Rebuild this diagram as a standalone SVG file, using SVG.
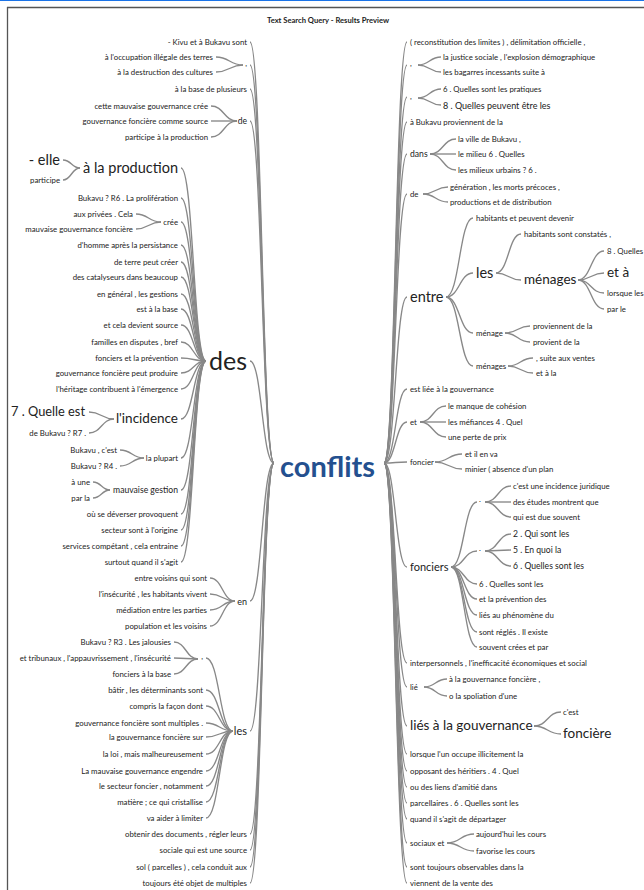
<svg xmlns="http://www.w3.org/2000/svg" width="644" height="890" viewBox="0 0 644 890">
<style>
text{font-family:Lato,'Liberation Sans',sans-serif;font-size:7.8px;fill:#222;dominant-baseline:central}
.e{text-anchor:end}
.s9{font-size:9px}
.s85{font-size:8.6px}
.s11{font-size:11px}
.s13{font-size:13.5px}
.s125{font-size:12.8px}
.s14{font-size:14.5px}
.big{font-size:25px}
.title{font-weight:700;font-size:7.6px;text-anchor:middle}
.root{font-weight:700;font-size:29px;fill:#24508f}
#connectors path{fill:none;stroke:#888;stroke-width:1.35}
</style>
<rect x="0" y="0" width="644" height="890" fill="#fff"/>
<line x1="0" y1="0.5" x2="644" y2="0.5" stroke="#1a73e8" stroke-width="1.2"/>
<line x1="7" y1="7.5" x2="644" y2="7.5" stroke="#555" stroke-width="1.3"/>
<line x1="7.5" y1="7" x2="7.5" y2="890" stroke="#555" stroke-width="1.3"/>
<text class="title" x="328" y="20">Text Search Query - Results Preview</text>
<g id="connectors">
<path d="M250,42 C262,42 262,463 274,463"/>
<path d="M250,65 C262,65 262,463 274,463"/>
<path d="M250,89 C262,89 262,463 274,463"/>
<path d="M250,121 C262,121 262,463 274,463"/>
<path d="M250,361 C262,361 262,463 274,463"/>
<path d="M250,601 C262,601 262,463 274,463"/>
<path d="M250,731 C262,731 262,463 274,463"/>
<path d="M250,834 C262,834 262,463 274,463"/>
<path d="M250,850 C262,850 262,463 274,463"/>
<path d="M250,867 C262,867 262,463 274,463"/>
<path d="M250,883 C262,883 262,463 274,463"/>
<path d="M384,463 C395.5,463 395.5,42 407,42"/>
<path d="M384,463 C395.5,463 395.5,65 407,65"/>
<path d="M384,463 C395.5,463 395.5,97 407,97"/>
<path d="M384,463 C395.5,463 395.5,122 407,122"/>
<path d="M384,463 C395.5,463 395.5,154 407,154"/>
<path d="M384,463 C395.5,463 395.5,194 407,194"/>
<path d="M384,463 C395.5,463 395.5,297 407,297"/>
<path d="M384,463 C395.5,463 395.5,389 407,389"/>
<path d="M384,463 C395.5,463 395.5,422 407,422"/>
<path d="M384,463 C395.5,463 395.5,462 407,462"/>
<path d="M384,463 C395.5,463 395.5,567 407,567"/>
<path d="M384,463 C395.5,463 395.5,663 407,663"/>
<path d="M384,463 C395.5,463 395.5,687 407,687"/>
<path d="M384,463 C395.5,463 395.5,726 407,726"/>
<path d="M384,463 C395.5,463 395.5,754 407,754"/>
<path d="M384,463 C395.5,463 395.5,771 407,771"/>
<path d="M384,463 C395.5,463 395.5,787 407,787"/>
<path d="M384,463 C395.5,463 395.5,803 407,803"/>
<path d="M384,463 C395.5,463 395.5,819 407,819"/>
<path d="M384,463 C395.5,463 395.5,843 407,843"/>
<path d="M384,463 C395.5,463 395.5,867 407,867"/>
<path d="M384,463 C395.5,463 395.5,883 407,883"/>
<path d="M216,57 C229.5,57 229.5,65 243,65"/>
<path d="M216,72 C229.5,72 229.5,65 243,65"/>
<path d="M211,106 C224,106 224,121 237,121"/>
<path d="M211,121 L237,121"/>
<path d="M211,137 C224,137 224,121 237,121"/>
<path d="M181,168 C193.5,168 193.5,361 206,361"/>
<path d="M181,198 C193.5,198 193.5,361 206,361"/>
<path d="M181,222 C193.5,222 193.5,361 206,361"/>
<path d="M181,245 C193.5,245 193.5,361 206,361"/>
<path d="M181,262 C193.5,262 193.5,361 206,361"/>
<path d="M181,277 C193.5,277 193.5,361 206,361"/>
<path d="M181,294 C193.5,294 193.5,361 206,361"/>
<path d="M181,309 C193.5,309 193.5,361 206,361"/>
<path d="M181,325 C193.5,325 193.5,361 206,361"/>
<path d="M181,342 C193.5,342 193.5,361 206,361"/>
<path d="M181,358 C193.5,358 193.5,361 206,361"/>
<path d="M181,373 C193.5,373 193.5,361 206,361"/>
<path d="M181,389 C193.5,389 193.5,361 206,361"/>
<path d="M181,419 C193.5,419 193.5,361 206,361"/>
<path d="M181,458 C193.5,458 193.5,361 206,361"/>
<path d="M181,490 C193.5,490 193.5,361 206,361"/>
<path d="M181,514 C193.5,514 193.5,361 206,361"/>
<path d="M181,530 C193.5,530 193.5,361 206,361"/>
<path d="M181,546 C193.5,546 193.5,361 206,361"/>
<path d="M181,562 C193.5,562 193.5,361 206,361"/>
<path d="M63,160 C71.5,160 71.5,168 80,168"/>
<path d="M63,180 C71.5,180 71.5,168 80,168"/>
<path d="M136,214 C148.5,214 148.5,222 161,222"/>
<path d="M136,229 C148.5,229 148.5,222 161,222"/>
<path d="M89,412 C101.5,412 101.5,419 114,419"/>
<path d="M89,433 C101.5,433 101.5,419 114,419"/>
<path d="M120,450 C132,450 132,458 144,458"/>
<path d="M120,466 C132,466 132,458 144,458"/>
<path d="M93,482 C101.5,482 101.5,490 110,490"/>
<path d="M93,498 C101.5,498 101.5,490 110,490"/>
<path d="M210,578 C222.5,578 222.5,601 235,601"/>
<path d="M210,594 C222.5,594 222.5,601 235,601"/>
<path d="M210,610 C222.5,610 222.5,601 235,601"/>
<path d="M210,626 C222.5,626 222.5,601 235,601"/>
<path d="M206,658 C219.5,658 219.5,731 233,731"/>
<path d="M206,690 C219.5,690 219.5,731 233,731"/>
<path d="M206,706 C219.5,706 219.5,731 233,731"/>
<path d="M206,723 C219.5,723 219.5,731 233,731"/>
<path d="M206,737 C219.5,737 219.5,731 233,731"/>
<path d="M206,754 C219.5,754 219.5,731 233,731"/>
<path d="M206,771 C219.5,771 219.5,731 233,731"/>
<path d="M206,786 C219.5,786 219.5,731 233,731"/>
<path d="M206,802 C219.5,802 219.5,731 233,731"/>
<path d="M206,818 C219.5,818 219.5,731 233,731"/>
<path d="M174,642 C186,642 186,659 198,659"/>
<path d="M174,658 L198,659"/>
<path d="M174,674 C186,674 186,659 198,659"/>
<path d="M418,65 C429.5,65 429.5,57 441,57"/>
<path d="M418,65 C429.5,65 429.5,72 441,72"/>
<path d="M418,98 C429.5,98 429.5,89 441,89"/>
<path d="M418,98 C429.5,98 429.5,105 441,105"/>
<path d="M430,154 C443,154 443,139 456,139"/>
<path d="M430,154 L456,154"/>
<path d="M430,154 C443,154 443,170 456,170"/>
<path d="M423,194 C435.5,194 435.5,187 448,187"/>
<path d="M423,194 C435.5,194 435.5,202 448,202"/>
<path d="M446,297 C459.5,297 459.5,218 473,218"/>
<path d="M446,297 C459.5,297 459.5,273 473,273"/>
<path d="M446,297 C459.5,297 459.5,333 473,333"/>
<path d="M446,297 C459.5,297 459.5,366 473,366"/>
<path d="M496,273 C508.5,273 508.5,234 521,234"/>
<path d="M496,273 C508.5,273 508.5,280 521,280"/>
<path d="M578,280 C591,280 591,251 604,251"/>
<path d="M578,280 C591,280 591,273 604,273"/>
<path d="M578,280 C591,280 591,293 604,293"/>
<path d="M578,280 C591,280 591,309 604,309"/>
<path d="M505,333 C517.5,333 517.5,326 530,326"/>
<path d="M505,333 C517.5,333 517.5,342 530,342"/>
<path d="M508,366 C520.5,366 520.5,358 533,358"/>
<path d="M508,366 C520.5,366 520.5,373 533,373"/>
<path d="M420,422 C433,422 433,406 446,406"/>
<path d="M420,422 L446,422"/>
<path d="M420,422 C433,422 433,437 446,437"/>
<path d="M435,462 C448.5,462 448.5,454 462,454"/>
<path d="M435,462 C448.5,462 448.5,469 462,469"/>
<path d="M451,567 C464,567 464,502 477,502"/>
<path d="M451,567 C464,567 464,551 477,551"/>
<path d="M451,567 C464,567 464,584 477,584"/>
<path d="M451,567 C464,567 464,599 477,599"/>
<path d="M451,567 C464,567 464,615 477,615"/>
<path d="M451,567 C464,567 464,632 477,632"/>
<path d="M451,567 C464,567 464,647 477,647"/>
<path d="M485,502 C498,502 498,486 511,486"/>
<path d="M485,502 L511,502"/>
<path d="M485,502 C498,502 498,517 511,517"/>
<path d="M485,551 C498,551 498,534 511,534"/>
<path d="M485,551 L511,550"/>
<path d="M485,551 C498,551 498,566 511,566"/>
<path d="M424,687 C435.5,687 435.5,679 447,679"/>
<path d="M424,687 C435.5,687 435.5,696 447,696"/>
<path d="M534,726 C547.5,726 547.5,712 561,712"/>
<path d="M534,726 C547.5,726 547.5,734 561,734"/>
<path d="M447,843 C460.5,843 460.5,834 474,834"/>
<path d="M447,843 C460.5,843 460.5,851 474,851"/>
</g>
<g id="root"><text class="root" x="280" y="465">conflits</text></g>
<g id="l-kivu"><text class="e" x="247" y="42">- Kivu et à Bukavu sont</text></g>
<g id="l-comma1"><text class="e" x="247" y="63">,</text></g>
<g id="l-occupation"><text class="e" x="213" y="57">à l'occupation illégale des terres</text></g>
<g id="l-destruction"><text class="e" x="213" y="72">à la destruction des cultures</text></g>
<g id="l-base"><text class="e" x="247" y="89">à la base de plusieurs</text></g>
<g id="l-de"><text class="e s85" x="247" y="121">de</text></g>
<g id="l-cette"><text class="e" x="208" y="106">cette mauvaise gouvernance crée</text></g>
<g id="l-gouvsource"><text class="e" x="208" y="121">gouvernance foncière comme source</text></g>
<g id="l-participeprod"><text class="e" x="208" y="137">participe à la production</text></g>
<g id="l-des"><text class="e big" x="247" y="360">des</text></g>
<g id="l-en"><text class="e s9" x="247" y="601">en</text></g>
<g id="l-les"><text class="e s11" x="247" y="730">les</text></g>
<g id="l-obtenir"><text class="e" x="247" y="834">obtenir des documents , régler leurs</text></g>
<g id="l-sociale"><text class="e" x="247" y="850">sociale qui est une source</text></g>
<g id="l-sol"><text class="e" x="247" y="867">sol ( parcelles ) , cela conduit aux</text></g>
<g id="l-toujours"><text class="e" x="247" y="883">toujours été objet de multiples</text></g>
<g id="l-production"><text class="e s14" x="178" y="167">à la production</text></g>
<g id="l-elle"><text class="e s14" x="60" y="159">- elle</text></g>
<g id="l-participe"><text class="e" x="60" y="180">participe</text></g>
<g id="l-r6"><text class="e" x="178" y="198">Bukavu ? R6 . La prolifération</text></g>
<g id="l-cree"><text class="e" x="178" y="222">crée</text></g>
<g id="l-prives"><text class="e" x="133" y="214">aux privées . Cela</text></g>
<g id="l-mauvgouv"><text class="e" x="133" y="229">mauvaise gouvernance foncière</text></g>
<g id="l-homme"><text class="e" x="178" y="245">d'homme après la persistance</text></g>
<g id="l-terre"><text class="e" x="178" y="262">de terre peut créer</text></g>
<g id="l-catal"><text class="e" x="178" y="277">des catalyseurs dans beaucoup</text></g>
<g id="l-general"><text class="e" x="178" y="294">en général , les gestions</text></g>
<g id="l-estbase"><text class="e" x="178" y="309">est à la base</text></g>
<g id="l-devient"><text class="e" x="178" y="325">et cela devient source</text></g>
<g id="l-familles"><text class="e" x="178" y="342">familles en disputes , bref</text></g>
<g id="l-prevention"><text class="e" x="178" y="358">fonciers et la prévention</text></g>
<g id="l-produire"><text class="e" x="178" y="373">gouvernance foncière peut produire</text></g>
<g id="l-heritage"><text class="e" x="178" y="389">l'héritage contribuent à l'émergence</text></g>
<g id="l-incidence"><text class="e s13" x="178" y="418">l'incidence</text></g>
<g id="l-quelle"><text class="e s125" x="85" y="411">7 . Quelle est</text></g>
<g id="l-r7"><text class="e" x="86" y="433">de Bukavu ? R7 .</text></g>
<g id="l-plupart"><text class="e" x="178" y="458">la plupart</text></g>
<g id="l-cest"><text class="e" x="117" y="450">Bukavu , c'est</text></g>
<g id="l-r4"><text class="e" x="117" y="466">Bukavu ? R4 .</text></g>
<g id="l-gestion"><text class="e s85" x="178" y="490">mauvaise gestion</text></g>
<g id="l-une"><text class="e" x="90" y="482">à une</text></g>
<g id="l-parla"><text class="e" x="90" y="498">par la</text></g>
<g id="l-deverser"><text class="e" x="178" y="514">où se déverser provoquent</text></g>
<g id="l-secteur"><text class="e" x="178" y="530">secteur sont à l'origine</text></g>
<g id="l-services"><text class="e" x="178" y="546">services compétant , cela entraine</text></g>
<g id="l-surtout"><text class="e" x="178" y="562">surtout quand il s'agit</text></g>
<g id="l-voisins"><text class="e" x="207" y="578">entre voisins qui sont</text></g>
<g id="l-insecurite"><text class="e" x="207" y="594">l'insécurité , les habitants vivent</text></g>
<g id="l-mediation"><text class="e" x="207" y="610">médiation entre les parties</text></g>
<g id="l-population"><text class="e" x="207" y="626">population et les voisins</text></g>
<g id="l-comma2"><text class="e" x="203" y="656">,</text></g>
<g id="l-r3"><text class="e" x="171" y="642">Bukavu ? R3 . Les jalousies</text></g>
<g id="l-tribunaux"><text class="e" x="171" y="658">et tribunaux , l'appauvrissement , l'insécurité</text></g>
<g id="l-foncbase"><text class="e" x="171" y="674">fonciers à la base</text></g>
<g id="l-batir"><text class="e" x="203" y="690">bâtir , les déterminants sont</text></g>
<g id="l-compris"><text class="e" x="203" y="706">compris la façon dont</text></g>
<g id="l-multiples"><text class="e" x="203" y="723">gouvernance foncière sont multiples .</text></g>
<g id="l-sur"><text class="e" x="203" y="737">la gouvernance foncière sur</text></g>
<g id="l-loi"><text class="e" x="203" y="754">la loi , mais malheureusement</text></g>
<g id="l-engendre"><text class="e" x="203" y="771">La mauvaise gouvernance engendre</text></g>
<g id="l-notamment"><text class="e" x="203" y="786">le secteur foncier , notamment</text></g>
<g id="l-matiere"><text class="e" x="203" y="802">matière ; ce qui cristallise</text></g>
<g id="l-limiter"><text class="e" x="203" y="818">va aider à limiter</text></g>
<g id="r-reconst"><text x="410" y="42">( reconstitution des limites ) , délimitation officielle ,</text></g>
<g id="r-comma1"><text x="410" y="63">,</text></g>
<g id="r-justice"><text x="443" y="57">la justice sociale , l'explosion démographique</text></g>
<g id="r-bagarres"><text x="443" y="72">les bagarres incessants suite à</text></g>
<g id="r-comma2"><text x="410" y="96">,</text></g>
<g id="r-pratiques"><text x="443" y="89">6 . Quelles sont les pratiques</text></g>
<g id="r-peuvent"><text class="s9" x="443" y="105">8 . Quelles peuvent être les</text></g>
<g id="r-proviennent"><text x="410" y="122">à Bukavu proviennent de la</text></g>
<g id="r-dans"><text class="s85" x="410" y="154">dans</text></g>
<g id="r-ville"><text x="458" y="139">la ville de Bukavu ,</text></g>
<g id="r-milieu"><text x="458" y="154">le milieu 6 . Quelles</text></g>
<g id="r-urbains"><text x="458" y="170">les milieux urbains ? 6 .</text></g>
<g id="r-de"><text x="410" y="194">de</text></g>
<g id="r-generation"><text x="450" y="187">génération , les morts précoces ,</text></g>
<g id="r-distribution"><text x="450" y="202">productions et de distribution</text></g>
<g id="r-entre"><text class="s14" x="410" y="296">entre</text></g>
<g id="r-devenir"><text x="476" y="218">habitants et peuvent devenir</text></g>
<g id="r-les"><text class="s14" x="476" y="272">les</text></g>
<g id="r-constates"><text x="524" y="234">habitants sont constatés ,</text></g>
<g id="r-menages-big"><text class="s13" x="524" y="279">ménages</text></g>
<g id="r-quelles8"><text x="607" y="251">8 . Quelles</text></g>
<g id="r-eta"><text class="s13" x="607" y="272">et à</text></g>
<g id="r-lorsque"><text x="607" y="293">lorsque les</text></g>
<g id="r-parle"><text x="607" y="309">par le</text></g>
<g id="r-menage"><text x="476" y="333">ménage</text></g>
<g id="r-provdela"><text x="533" y="326">proviennent de la</text></g>
<g id="r-provient"><text x="533" y="342">provient de la</text></g>
<g id="r-menages"><text x="476" y="366">ménages</text></g>
<g id="r-ventes"><text x="536" y="358">, suite aux ventes</text></g>
<g id="r-etala"><text x="536" y="373">et à la</text></g>
<g id="r-estliee"><text x="410" y="389">est liée à la gouvernance</text></g>
<g id="r-et"><text x="410" y="422">et</text></g>
<g id="r-cohesion"><text x="448" y="406">le manque de cohésion</text></g>
<g id="r-mefiances"><text x="448" y="422">les méfiances 4 . Quel</text></g>
<g id="r-perte"><text x="448" y="437">une perte de prix</text></g>
<g id="r-foncier"><text x="410" y="462">foncier</text></g>
<g id="r-enva"><text x="465" y="454">et il en va</text></g>
<g id="r-minier"><text x="465" y="469">minier ( absence d'un plan</text></g>
<g id="r-fonciers"><text class="s11" x="410" y="566">fonciers</text></g>
<g id="r-dot1"><text x="479" y="499">.</text></g>
<g id="r-juridique"><text x="513" y="486">c'est une incidence juridique</text></g>
<g id="r-etudes"><text x="513" y="502">des études montrent que</text></g>
<g id="r-due"><text x="513" y="517">qui est due souvent</text></g>
<g id="r-dot2"><text x="479" y="548">.</text></g>
<g id="r-qui2"><text class="s85" x="513" y="534">2 . Qui sont les</text></g>
<g id="r-quoi5"><text class="s85" x="513" y="550">5 . En quoi la</text></g>
<g id="r-quelles6"><text class="s85" x="513" y="566">6 . Quelles sont les</text></g>
<g id="r-quelles6b"><text x="479" y="584">6 . Quelles sont les</text></g>
<g id="r-prevention"><text x="479" y="599">et la prévention des</text></g>
<g id="r-phenomene"><text x="479" y="615">liés au phénomène du</text></g>
<g id="r-regles"><text x="479" y="632">sont réglés . Il existe</text></g>
<g id="r-crees"><text x="479" y="647">souvent crées et par</text></g>
<g id="r-interpers"><text x="410" y="663">interpersonnels , l'inefficacité économiques et social</text></g>
<g id="r-lie"><text x="410" y="687">lié</text></g>
<g id="r-gouvfonc"><text x="449" y="679">à la gouvernance foncière ,</text></g>
<g id="r-spoliation"><text x="449" y="696">o la spoliation d'une</text></g>
<g id="r-lies"><text class="s13" x="410" y="725">liés à la gouvernance</text></g>
<g id="r-cest"><text x="563" y="712">c'est</text></g>
<g id="r-fonciere"><text class="s13" x="563" y="733">foncière</text></g>
<g id="r-occupe"><text x="410" y="754">lorsque l'un occupe illicitement la</text></g>
<g id="r-opposant"><text x="410" y="771">opposant des héritiers . 4 . Quel</text></g>
<g id="r-amitie"><text x="410" y="787">ou des liens d'amitié dans</text></g>
<g id="r-parcellaires"><text x="410" y="803">parcellaires . 6 . Quelles sont les</text></g>
<g id="r-departager"><text x="410" y="819">quand il s'agit de départager</text></g>
<g id="r-sociaux"><text x="410" y="843">sociaux et</text></g>
<g id="r-aujourdhui"><text x="476" y="834">aujourd'hui les cours</text></g>
<g id="r-favorise"><text x="476" y="851">favorise les cours</text></g>
<g id="r-observables"><text x="410" y="867">sont toujours observables dans la</text></g>
<g id="r-vente"><text x="410" y="883">viennent de la vente des</text></g>
</svg>
